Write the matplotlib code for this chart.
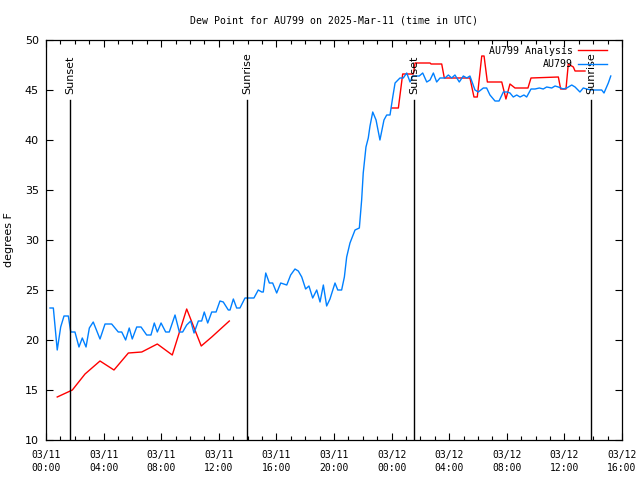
import matplotlib
matplotlib.use("Agg")
import matplotlib.pyplot as plt
import numpy as np

# hours since 03/11 00:00 UTC, dew point in degrees F
obs_hours = [0.28, 0.51, 0.78, 1.02, 1.25, 1.55, 1.72, 2.01, 2.29, 2.52, 2.78, 3.01, 3.28, 3.75,
             4.10, 4.56, 5.02, 5.26, 5.53, 5.78, 5.99, 6.30, 6.60, 6.99, 7.29, 7.52, 7.73, 7.99,
             8.31, 8.56, 8.96, 9.26, 9.49, 9.77, 10.05, 10.28, 10.58, 10.81, 10.99, 11.23, 11.51,
             11.81, 12.08, 12.31, 12.66, 12.78, 13.01, 13.24, 13.47, 13.82, 14.44, 14.74, 14.98,
             15.09, 15.26, 15.51, 15.74, 16.02, 16.30, 16.72, 16.99, 17.29, 17.52, 17.76, 18.03,
             18.26, 18.52, 18.80, 19.03, 19.26, 19.49, 19.72, 20.07, 20.26, 20.53, 20.72, 20.88,
             21.11, 21.46, 21.76, 21.92, 22.03, 22.22, 22.38, 22.50, 22.69, 22.92, 23.19, 23.47,
             23.66, 23.89, 24.08, 24.24, 24.58, 24.81, 25.05, 25.28, 25.47, 25.92, 26.16, 26.44,
             26.67, 26.90, 27.13, 27.36, 27.71, 27.94, 28.17, 28.40, 28.70, 28.98, 29.22, 29.44,
             29.79, 30.02, 30.37, 30.60, 30.83, 31.18, 31.46, 31.76, 32.03, 32.22, 32.45, 32.69,
             32.92, 33.19, 33.38, 33.68, 33.96, 34.26, 34.53, 34.77, 35.12, 35.35, 35.58, 35.92,
             36.16, 36.51, 36.74, 37.08, 37.31, 37.55, 37.90, 38.24, 38.59, 38.75, 39.05, 39.22]
obs_dewpt = [23.2, 23.2, 19.0, 21.3, 22.4, 22.4, 20.8, 20.8, 19.3, 20.2, 19.3, 21.2, 21.8, 20.1,
             21.6, 21.6, 20.8, 20.8, 20.0, 21.2, 20.1, 21.3, 21.3, 20.5, 20.5, 21.7, 20.8, 21.7,
             20.8, 20.8, 22.5, 20.8, 20.8, 21.5, 21.9, 20.7, 21.9, 21.9, 22.8, 21.7, 22.8,
             22.8, 23.9, 23.8, 23.0, 23.0, 24.1, 23.2, 23.2, 24.2, 24.2, 25.0, 24.8,
             24.8, 26.7, 25.7, 25.7, 24.7, 25.7, 25.5, 26.5, 27.1, 26.9, 26.3, 25.1,
             25.4, 24.2, 25.0, 23.8, 25.5, 23.4, 24.1, 25.7, 25.0, 25.0, 26.3, 28.3,
             29.7, 31.0, 31.2, 34.0, 36.7, 39.3, 40.2, 41.4, 42.8, 42.0, 40.0, 42.0,
             42.5, 42.5, 44.3, 45.7, 46.2, 46.2, 46.7, 45.8, 46.4, 46.4, 46.7, 45.8,
             46.0, 46.7, 45.8, 46.2, 46.2, 46.5, 46.2, 46.5, 45.8, 46.4, 46.2, 46.4,
             45.0, 44.8, 45.2, 45.2, 44.5, 43.9, 43.9, 44.8, 44.8, 44.7, 44.3, 44.5,
             44.3, 44.5, 44.3, 45.1, 45.1, 45.2, 45.1, 45.3, 45.2, 45.4, 45.3, 45.1,
             45.2, 45.5, 45.3, 44.8, 45.2, 45.1, 45.0, 45.0, 45.0, 44.7, 45.7, 46.4]

# analysis, two pieces with a gap in between
ana_hours = [0.78, 1.83, 2.71, 3.75, 4.72, 5.72, 6.65, 7.73, 8.77, 9.77, 10.78, 11.51, 12.73,
             np.nan,
             24.01, 24.47, 24.77, 25.51, 25.63, 26.67, 26.74, 27.48, 27.66, 29.44, 29.72, 29.95,
             30.26, 30.42, 30.65, 31.65, 31.94, 32.22, 32.57, 33.47, 33.68, 35.58, 35.74, 36.11,
             36.27, 36.62, 36.74, 37.43]
ana_dewpt = [14.3, 15.0, 16.6, 17.9, 17.0, 18.7, 18.8, 19.6, 18.5, 23.1, 19.4, 20.3, 21.9,
             np.nan,
             43.2, 43.2, 46.6, 46.6, 47.7, 47.7, 47.6, 47.6, 46.2, 46.2, 44.3, 44.3,
             48.4, 48.4, 45.8, 45.8, 44.1, 45.6, 45.2, 45.2, 46.2, 46.3, 45.1, 45.1,
             47.6, 47.3, 46.9, 46.9]

event_hours = [1.65, 13.96, 25.56, 37.85]
event_names = ["Sunset", "Sunrise", "Sunset", "Sunrise"]

tick_hours = list(range(0, 41, 4))
tick_labels = ["03/11\n00:00", "03/11\n04:00", "03/11\n08:00", "03/11\n12:00", "03/11\n16:00",
               "03/11\n20:00", "03/12\n00:00", "03/12\n04:00", "03/12\n08:00", "03/12\n12:00",
               "03/12\n16:00"]

mono = "DejaVu Sans Mono"

fig = plt.figure(figsize=(6.4, 4.8), dpi=100)
ax = fig.add_axes([46 / 640, 40 / 480, 576 / 640, 400 / 480])

ax.plot(ana_hours, ana_dewpt, color="#ff0000", lw=1.0, label="AU799 Analysis")
ax.plot(obs_hours, obs_dewpt, color="#0080ff", lw=1.0, label="AU799")

for h, name in zip(event_hours, event_names):
    ax.plot([h, h], [10, 44.0], color="black", lw=1.0)
    ax.text(h, 44.6, name, rotation=90, ha="center", va="bottom", fontsize=8)

ax.set_xlim(0, 40)
ax.set_ylim(10, 50)
ax.set_xticks(tick_hours)
ax.set_xticklabels(tick_labels, family=mono, fontsize=7, linespacing=1.35)
ax.set_xticks(range(0, 41), minor=True)
ax.set_yticks(range(10, 51, 5), labels=[str(v) for v in range(10, 51, 5)], fontsize=8)
ax.tick_params(which="both", direction="in", top=True, right=True, width=0.8)
ax.tick_params(which="major", length=5)
ax.tick_params(which="minor", length=3)
ax.tick_params(axis="x", pad=7)
ax.tick_params(axis="y", pad=5)
for s in ax.spines.values():
    s.set_linewidth(0.9)

ax.set_ylabel("degrees F", fontsize=8, labelpad=8)
ax.set_title("Dew Point for AU799 on 2025-Mar-11 (time in UTC)", family=mono, fontsize=7.1, pad=12)

ax.legend(loc="upper right", bbox_to_anchor=(1 - 9 / 576, 1), frameon=False, markerfirst=False,
          prop={"family": mono, "size": 7.1}, handlelength=3.0, handletextpad=0.5,
          labelspacing=0.35, borderaxespad=0.2, borderpad=0.4)

fig.savefig("out.png", dpi=100)
